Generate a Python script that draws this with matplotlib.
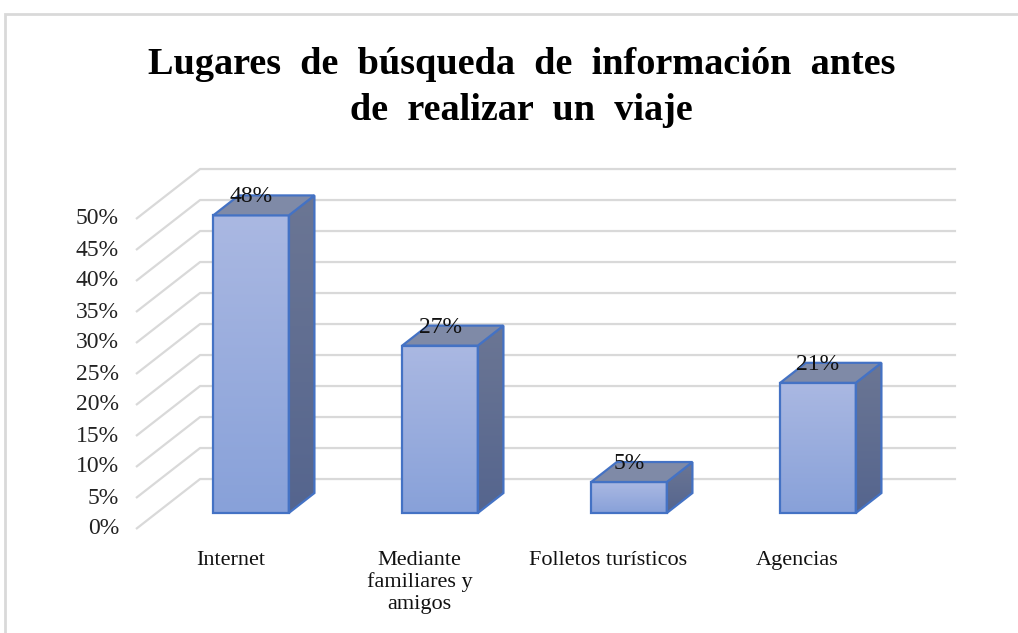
import numpy as np
import matplotlib.pyplot as plt
from matplotlib.patches import Polygon, Rectangle

# data
categories = ["Internet", "Mediante\nfamiliares y\namigos", "Folletos turísticos", "Agencias"]
values = [48, 27, 5, 21]
tick_values = list(range(0, 55, 5))
tick_labels = [f"{t}%" for t in tick_values]
title = "Lugares  de  búsqueda  de  información  antes\nde  realizar  un  viaje"

# look of the fake 3D
depth_x, depth_y = 0.339, 8.06      # full floor depth (x in slots, y in %)
front_f, back_f = 0.32, 0.72        # where the bar sits inside the floor depth
bar_w = 0.40
edge_col = "#4472c4"
grid_col = "#d9d9d9"
serif = "Liberation Serif"

fig = plt.figure(figsize=(10.18, 6.33), dpi=100)
ax = fig.add_axes([0, 0, 1, 1])
ax.set_axis_off()

# grid: diagonal on the side wall + horizontal on the back wall
n = len(categories)
for t, lab in zip(tick_values, tick_labels):
    ax.plot([0, depth_x, n + depth_x], [t, t + depth_y, t + depth_y],
            color=grid_col, lw=1.6, zorder=1, solid_capstyle="butt")
    ax.text(-0.09, t, lab, ha="right", va="center", fontsize=17,
            family=serif, color="#222222")


def gradient(ax, extent, c_top, c_bot, clip=None):
    c_top = np.array(plt.matplotlib.colors.to_rgb(c_top))
    c_bot = np.array(plt.matplotlib.colors.to_rgb(c_bot))
    s = np.linspace(0, 1, 64)[:, None]
    img = (c_top * (1 - s) + c_bot * s)[:, None, :]
    im = ax.imshow(img, extent=extent, aspect="auto", origin="upper",
                   interpolation="bilinear", zorder=2)
    if clip is not None:
        im.set_clip_path(clip)
    return im


ddx = (back_f - front_f) * depth_x
ddy = (back_f - front_f) * depth_y
for i, v in enumerate(values):
    xc = i + 0.5 + front_f * depth_x
    xl, xr = xc - bar_w / 2, xc + bar_w / 2
    yb = front_f * depth_y
    yt = v + yb

    # front face
    gradient(ax, [xl, xr, yb, yt], "#aab8e2", "#88a1d9")
    ax.add_patch(Rectangle((xl, yb), xr - xl, yt - yb, fill=False,
                           ec=edge_col, lw=1.6, zorder=4))
    # side face
    side = Polygon([(xr, yb), (xr + ddx, yb + ddy), (xr + ddx, yt + ddy), (xr, yt)],
                   closed=True, fc="none", ec=edge_col, lw=1.6, zorder=4)
    side_clip = Polygon(side.get_xy(), closed=True, transform=ax.transData)
    gradient(ax, [xr, xr + ddx, yb, yt + ddy], "#6b7694", "#55658e", clip=side_clip)
    ax.add_patch(side)
    # top face
    ax.add_patch(Polygon([(xl, yt), (xr, yt), (xr + ddx, yt + ddy), (xl + ddx, yt + ddy)],
                         closed=True, fc="#7f8aa7", ec=edge_col, lw=1.6, zorder=4))

    ax.text(xc, yt + 3.0, f"{v}%", ha="center", va="center", fontsize=17,
            family=serif, color="#111111", zorder=5)

for i, c in enumerate(categories):
    ax.text(i + 0.5, -3.6, c, ha="center", va="top", fontsize=16, family=serif,
            linespacing=1.15, color="#111111")

ax.set_xlim(-136 / 189, (1018 - 136) / 189)
ax.set_ylim((529 - 633) / 6.2, 529 / 6.2)

fig.text(0.512, 1 - 47 / 633, title, ha="center", va="top", fontsize=27.5, fontweight="bold",
         family=serif, linespacing=1.42)

# light frame of the chart area
fig.add_artist(Rectangle((5 / 1018, -0.1), 1.2, 1.1 - 14 / 633, fill=False,
                         ec=grid_col, lw=2, transform=fig.transFigure))

fig.savefig("out.png", dpi=100)
